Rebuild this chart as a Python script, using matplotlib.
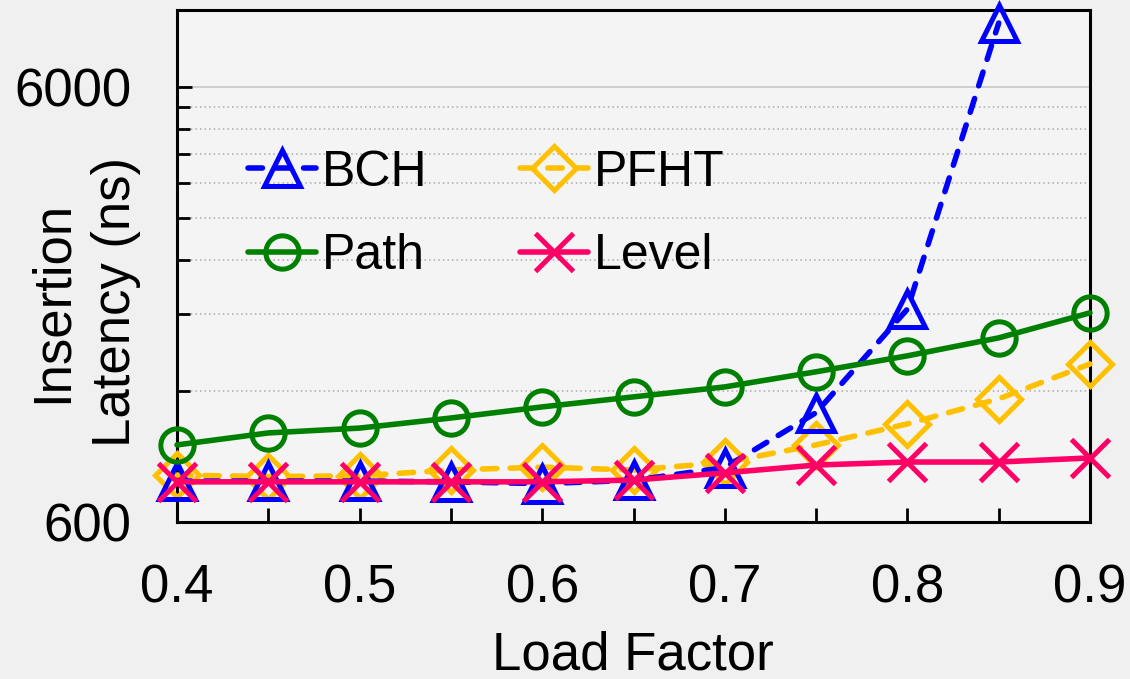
import matplotlib
matplotlib.use("Agg")
import matplotlib.pyplot as plt
from matplotlib.ticker import FixedLocator, NullFormatter, FixedFormatter

# ── data ──────────────────────────────────────────────────────────────────────
load_factor = [0.40, 0.45, 0.50, 0.55, 0.60, 0.65, 0.70, 0.75, 0.80, 0.85, 0.90]
bch   = [745, 745, 745, 742, 735, 748, 800, 1070, 1850, 8400]
pfht  = [769, 763, 766, 790, 802, 790, 822, 902, 1008, 1151, 1384]
path  = [902, 961, 986, 1040, 1103, 1163, 1226, 1328, 1445, 1589, 1814]
level = [742, 742, 742, 742, 742, 749, 778, 811, 824, 824, 842]

y_major = [600, 6000]
y_minor = [1200, 1800, 2400, 3000, 3600, 4200, 4800, 5400]
x_major = [0.4, 0.5, 0.6, 0.7, 0.8, 0.9]
x_minor = [0.45, 0.55, 0.65, 0.75, 0.85]

plt.rcParams["font.family"] = ["Liberation Sans", "DejaVu Sans"]

FS = 38
LW = 4.0
W, H = 1130, 679

fig = plt.figure(figsize=(W / 100, H / 100), dpi=100, facecolor="#f0f0f0")
ax = fig.add_axes([177 / W, 1 - 522 / H, 913 / W, 512 / H])
ax.set_facecolor("#f4f4f4")

ax.set_yscale("log")
ax.set_xlim(0.4, 0.9)
ax.set_ylim(600, 9000)

# grid: solid at 6000, dotted at the 600-steps in between
ax.axhline(6000, color="#cccccc", linewidth=1.3, zorder=0)
for v in y_minor:
    ax.axhline(v, color="#aaaaaa", linewidth=1.1, linestyle=(0, (1, 2)), zorder=0)

common = dict(linewidth=LW, markerfacecolor="none", markeredgewidth=LW * 0.9,
              clip_on=False, solid_capstyle="round", dash_capstyle="round")
dashed = (0, (2.6, 2.4))

ax.plot(load_factor, pfht, color="#ffc000", marker="D", markersize=22,
        linestyle=dashed, label="PFHT", zorder=3, **common)
ax.plot(load_factor[:len(bch)], bch, color="#0000ff", marker="^", markersize=26,
        linestyle=dashed, label="BCH", zorder=4, **common)
ax.plot(load_factor, path, color="#008000", marker="o", markersize=24,
        linestyle="-", label="Path", zorder=5, **common)
ax.plot(load_factor, level, color="#ff0066", marker="x", markersize=27,
        linestyle="-", label="Level", zorder=6, **common)

# ticks
ax.yaxis.set_major_locator(FixedLocator(y_major))
ax.yaxis.set_major_formatter(FixedFormatter([str(v) for v in y_major]))
ax.yaxis.set_minor_locator(FixedLocator(y_minor))
ax.yaxis.set_minor_formatter(NullFormatter())
ax.xaxis.set_major_locator(FixedLocator(x_major))
ax.xaxis.set_major_formatter(FixedFormatter([f"{v:.1f}" for v in x_major]))
ax.xaxis.set_minor_locator(FixedLocator(x_minor))

ax.tick_params(axis="both", which="both", direction="in", width=2, colors="black")
ax.tick_params(axis="y", which="major", length=11, pad=33, labelsize=FS)
ax.tick_params(axis="y", which="minor", length=9)
ax.tick_params(axis="x", which="both", length=10, pad=30, labelsize=FS)

for s in ax.spines.values():
    s.set_linewidth(2.2)
    s.set_color("black")

# legend in two columns: BCH, PFHT / Path, Level
h, l = ax.get_legend_handles_labels()
order = [1, 2, 0, 3]
ax.legend([h[i] for i in order], [l[i] for i in order], ncol=2, frameon=False,
          fontsize=36, loc="upper left", bbox_to_anchor=(0.078, 0.727),
          handlelength=1.35, handletextpad=0.13, columnspacing=1.85,
          labelspacing=0.75, borderaxespad=0, borderpad=0)

fig.text(633 / W, 1 - 670 / H, "Load Factor", fontsize=FS,
         ha="center", va="baseline")
for txt, xb in [("Insertion", 67), ("Latency (ns)", 130)]:
    fig.text(xb / W, 1 - 302 / H, txt, fontsize=FS, rotation=90,
             rotation_mode="anchor", ha="center", va="baseline")

fig.savefig("out.png", dpi=100, facecolor=fig.get_facecolor())
